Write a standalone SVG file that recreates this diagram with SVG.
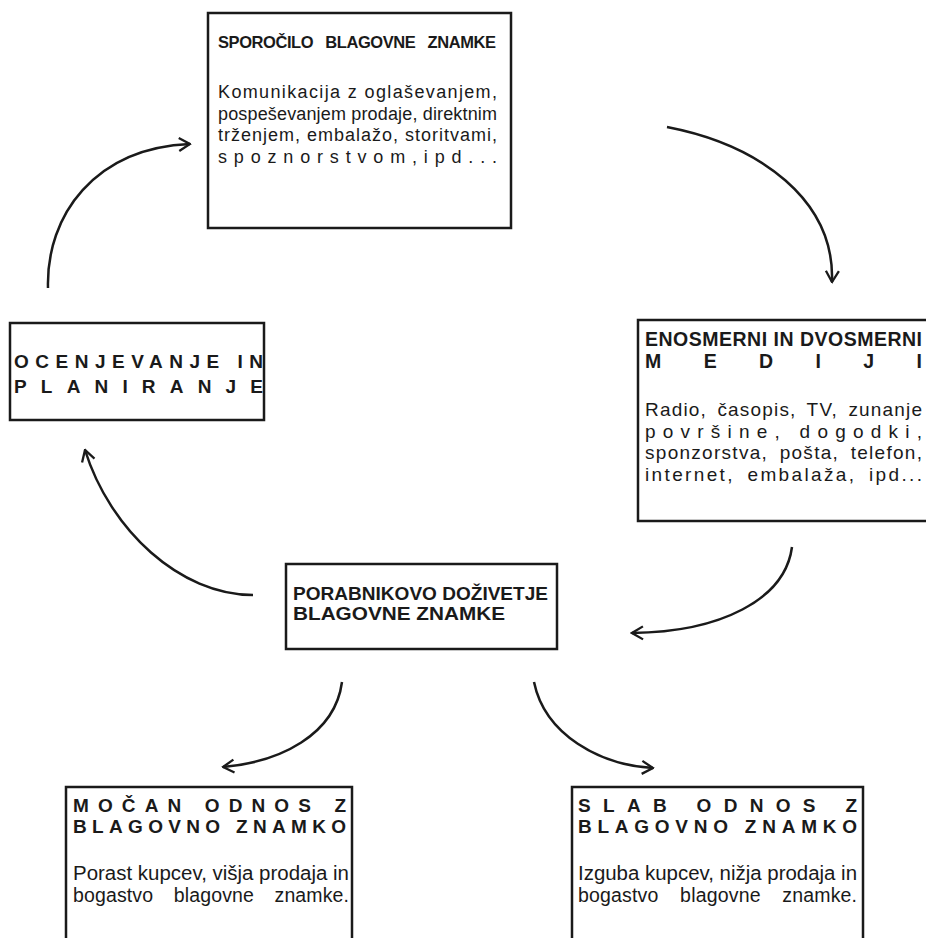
<svg xmlns="http://www.w3.org/2000/svg" width="926" height="938" viewBox="0 0 926 938">
<style>
.box{fill:#fff;stroke:#1a1a1a;stroke-width:2.5}
.t{font-family:"Liberation Sans",Arial,sans-serif;fill:#1a1a1a}
.b{font-weight:bold}
#connectors path{fill:none;stroke:#1a1a1a;stroke-width:2.5;marker-end:url(#arr)}
</style>
<defs>
<marker id="arr" viewBox="0 0 14 16" refX="12.5" refY="8" markerWidth="14" markerHeight="16" markerUnits="userSpaceOnUse" orient="auto">
<path d="M1.5,1.5 L12.5,8 L1.5,14.5" fill="none" stroke="#1a1a1a" stroke-width="2.3"/>
</marker>
</defs>
<rect width="926" height="938" fill="#fff"/>
<g id="connectors">
<path d="M48,288 C46,215 95,148 190,144"/>
<path d="M667,127 C760,145 835,200 832,282"/>
<path d="M792,547 C785,600 720,632 632,633"/>
<path d="M253,595 C180,595 110,530 85,450"/>
<path d="M342,682 C335,735 280,762 223,767"/>
<path d="M534,682 C545,735 600,765 653,768"/>
</g>
<g id="sporocilo">
<rect class="box" x="208" y="13" width="303" height="215"/>
<text class="t b" x="218" y="48" font-size="16.5" word-spacing="8" textLength="278" lengthAdjust="spacing">SPOROČILO BLAGOVNE ZNAMKE</text>
<text class="t" x="218" y="98" font-size="18" textLength="279" lengthAdjust="spacing">Komunikacija z oglaševanjem,</text>
<text class="t" x="218" y="119.5" font-size="18" textLength="279" lengthAdjust="spacing">pospeševanjem prodaje, direktnim</text>
<text class="t" x="218" y="141" font-size="18" textLength="279" lengthAdjust="spacing">trženjem, embalažo, storitvami,</text>
<text class="t" x="218" y="162.5" font-size="18" textLength="279" lengthAdjust="spacing">spoznorstvom,ipd...</text>
</g>
<g id="mediji">
<rect class="box" x="638" y="320" width="310" height="201"/>
<text class="t b" x="645" y="346" font-size="19.5" textLength="277" lengthAdjust="spacing">ENOSMERNI IN DVOSMERNI</text>
<text class="t b" x="645" y="368" font-size="19.5" textLength="277" lengthAdjust="spacing">MEDIJI</text>
<text class="t" x="645" y="416" font-size="19" word-spacing="4" textLength="277" lengthAdjust="spacing">Radio, časopis, TV, zunanje</text>
<text class="t" x="645" y="437.5" font-size="19" textLength="277" lengthAdjust="spacing">površine, dogodki,</text>
<text class="t" x="645" y="459" font-size="19" word-spacing="5" textLength="277" lengthAdjust="spacing">sponzorstva, pošta, telefon,</text>
<text class="t" x="645" y="480.5" font-size="19" word-spacing="5" textLength="277" lengthAdjust="spacing">internet, embalaža, ipd...</text>
</g>
<g id="ocenjevanje">
<rect class="box" x="10" y="323" width="254" height="97"/>
<text class="t b" x="14" y="368" font-size="19" textLength="249" lengthAdjust="spacing">OCENJEVANJE IN</text>
<text class="t b" x="14" y="393" font-size="19" textLength="249" lengthAdjust="spacing">PLANIRANJE</text>
</g>
<g id="porabnik">
<rect class="box" x="286" y="564" width="271" height="85"/>
<text class="t b" x="293" y="600" font-size="19" textLength="255" lengthAdjust="spacingAndGlyphs">PORABNIKOVO  DOŽIVETJE</text>
<text class="t b" x="293" y="620" font-size="19" textLength="212" lengthAdjust="spacingAndGlyphs">BLAGOVNE ZNAMKE</text>
</g>
<g id="mocan">
<rect class="box" x="66" y="787" width="286" height="160"/>
<text class="t b" x="73" y="812" font-size="19" textLength="273" lengthAdjust="spacing">MOČAN ODNOS Z</text>
<text class="t b" x="73" y="833" font-size="19" textLength="273" lengthAdjust="spacing">BLAGOVNO ZNAMKO</text>
<text class="t" x="73" y="880" font-size="19.5" textLength="276" lengthAdjust="spacingAndGlyphs">Porast kupcev, višja prodaja in</text>
<text class="t" x="73" y="902" font-size="19.5" word-spacing="15" textLength="276" lengthAdjust="spacing">bogastvo blagovne znamke.</text>
</g>
<g id="slab">
<rect class="box" x="572" y="787" width="291" height="160"/>
<text class="t b" x="578" y="812" font-size="19" textLength="279" lengthAdjust="spacing">SLAB ODNOS Z</text>
<text class="t b" x="578" y="833" font-size="19" textLength="279" lengthAdjust="spacing">BLAGOVNO ZNAMKO</text>
<text class="t" x="578" y="880" font-size="19.5" textLength="279" lengthAdjust="spacingAndGlyphs">Izguba kupcev, nižja prodaja in</text>
<text class="t" x="578" y="902" font-size="19.5" word-spacing="16" textLength="279" lengthAdjust="spacing">bogastvo blagovne znamke.</text>
</g>
</svg>
